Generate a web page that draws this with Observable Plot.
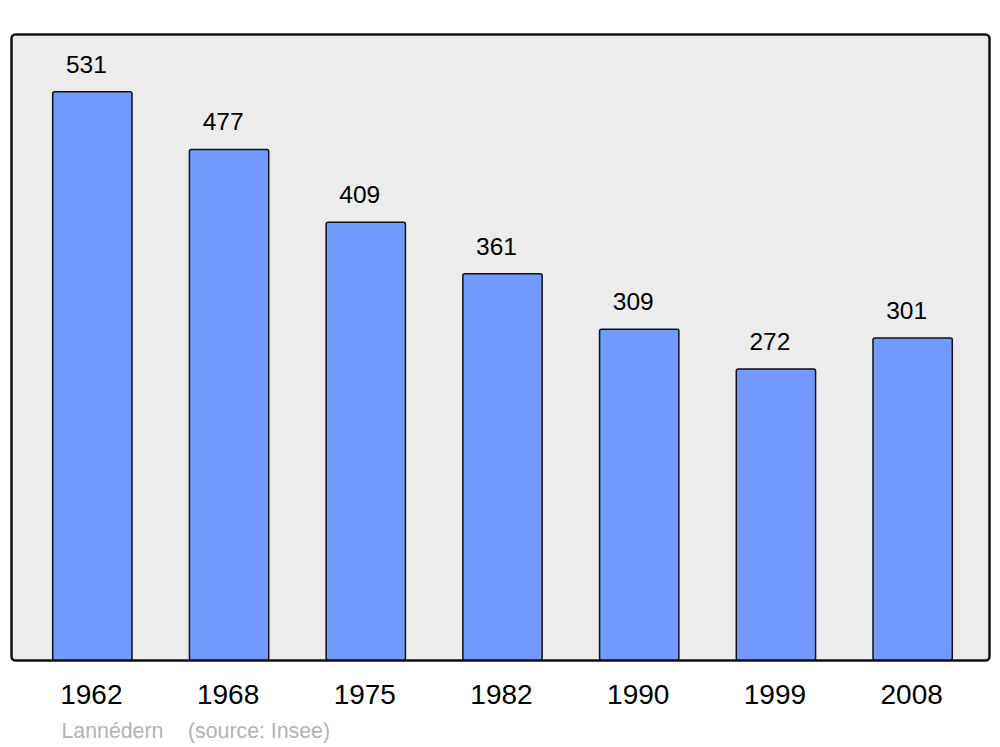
<!DOCTYPE html>
<html>
<head>
<meta charset="utf-8">
<script src="https://cdn.jsdelivr.net/npm/d3@7"></script>
<script src="https://cdn.jsdelivr.net/npm/@observablehq/plot@0.6"></script>
<style>
  html, body { margin: 0; padding: 0; background: #ffffff; }
  svg { display: block; }
</style>
</head>
<body>
<div id="chart"></div>
<script>
const years = ["1962", "1968", "1975", "1982", "1990", "1999", "2008"];
const population = [531, 477, 409, 361, 309, 272, 301];
const commune = "Lannédern";
const source = "(source: Insee)";

const data = years.map((year, i) => ({year, pop: population[i]}));
const font = "'Liberation Sans', Arial, sans-serif";

const chart = Plot.plot({
  width: 1000,
  height: 747,
  marginLeft: 11,
  marginRight: 11,
  marginTop: 34,
  marginBottom: 87,
  style: {fontFamily: font, background: "#ffffff"},
  x: {domain: years, range: [24, 981], paddingInner: 0.42, paddingOuter: 0.21, round: false, axis: null},
  y: {domain: [0, 585], axis: null},
  marks: [
    Plot.frame({fill: "#ececec", stroke: "#111111", strokeWidth: 2.5, rx: 4}),
    Plot.barY(data, {x: "year", y: "pop", fill: "#7299ff", stroke: "#111111", strokeWidth: 1.5, rx: 2}),
    Plot.text(data, {x: "year", y: "pop", text: d => String(d.pop), dy: -27.5, dx: -6.5, fontSize: 24.5, fill: "#000000"}),
    Plot.text(data, {x: "year", text: "year", frameAnchor: "bottom", dy: 43.5, dx: -1.5, fontSize: 28, fill: "#000000"}),
    Plot.text([commune], {frameAnchor: "bottom-left", dx: 50, dy: 77, text: d => d, textAnchor: "start", fontSize: 21.3, fill: "#b3b3b3"}),
    Plot.text([source], {frameAnchor: "bottom-left", dx: 176.5, dy: 77, text: d => d, textAnchor: "start", fontSize: 21.3, fill: "#b3b3b3"})
  ]
});
document.getElementById("chart").appendChild(chart);
</script>
</body>
</html>
